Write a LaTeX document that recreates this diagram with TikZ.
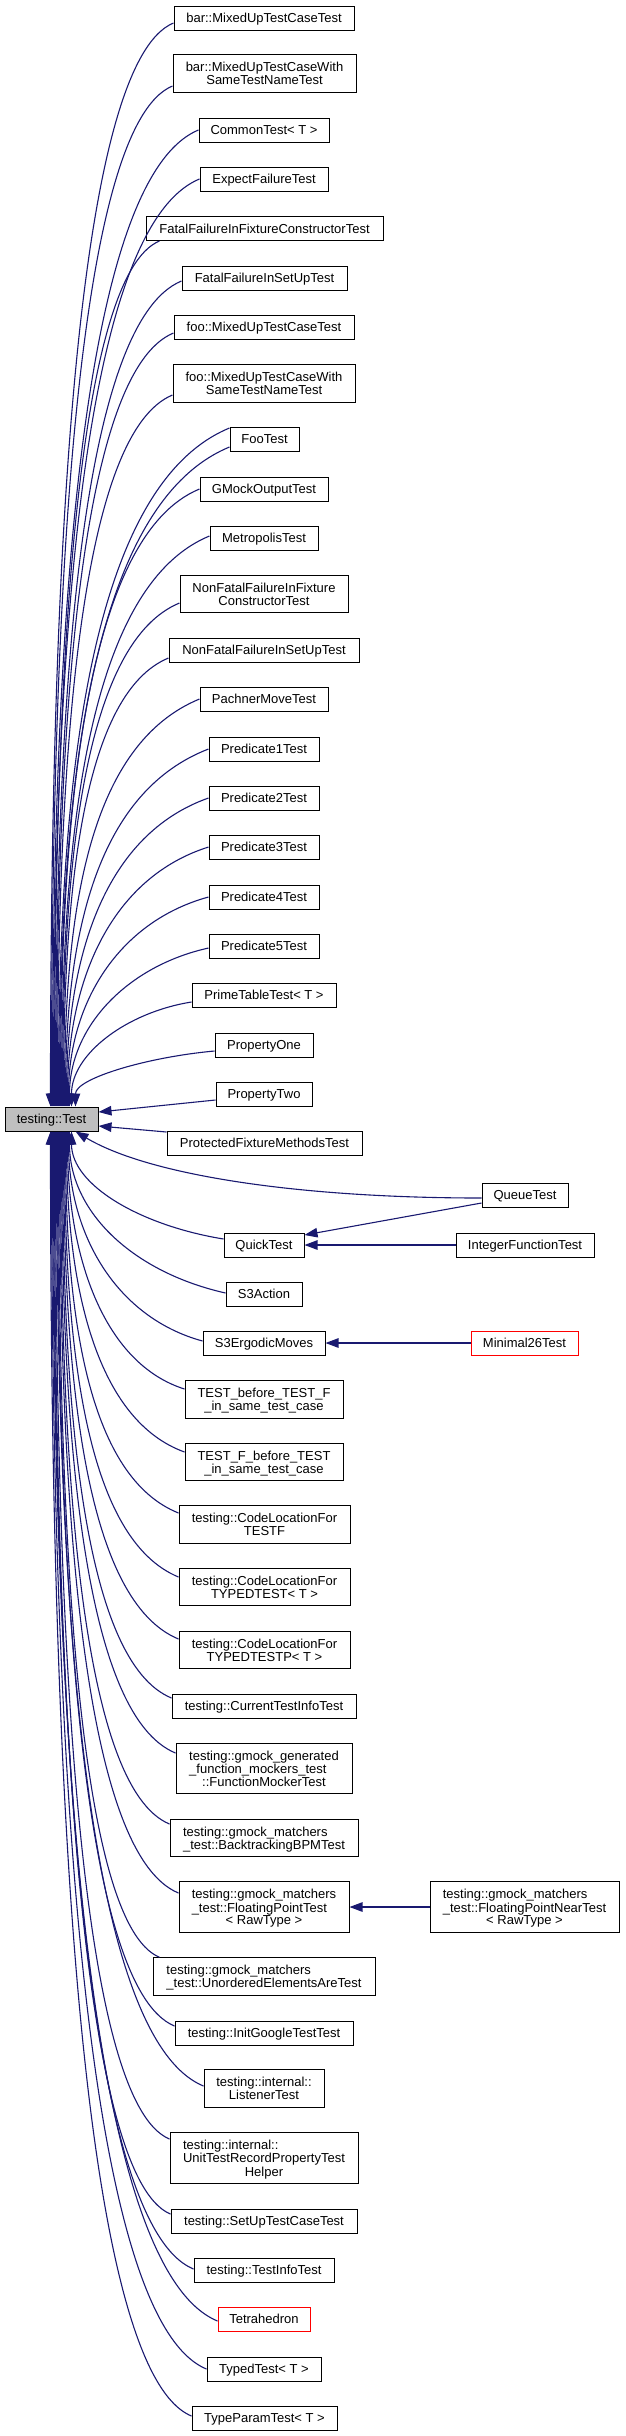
\documentclass[tikz,border=0pt]{standalone}
\usepackage{fontspec}
\setmainfont{Liberation Sans}
\usetikzlibrary{calc,arrows.meta}
\definecolor{edgeblue}{RGB}{25,25,112}
\definecolor{rootgray}{RGB}{191,191,191}
\newcommand\dlbl[1]{\raisebox{-2pt}[\height][\depth]{\begin{tabular}{@{}l@{}}#1\end{tabular}}}
\newcommand\dlc[1]{\multicolumn{1}{@{}c@{}}{#1}}
\newcommand\inh[2]{%
  \draw[edge] let \p1=(#2), \p2=(#1), \n1={\x2-\x1}, \n2={\y2-\y1},
    \n3={max(-1,min(1,\n2/400))} in
    (\p2) .. controls ({\x2-(0.45+0.35*abs(\n3))*\n1}, {\y2-0.33*\n1*\n3})
    and (\x1,{\y1+0.5*\n2}) .. (\p1);}
\tikzset{
  box/.style={draw=black, line width=1pt, fill=white, inner sep=0pt,
    minimum height=24pt, font=\fontsize{13}{12.8}\selectfont},
  htwo/.style={minimum height=37.5pt},
  hthree/.style={minimum height=50.5pt},
  redbox/.style={draw=red},
  rootbox/.style={fill=rootgray},
  edge/.style={draw=edgeblue, line width=1.1pt, -{Triangle[length=13pt,width=9.5pt]}},
}
\begin{document}
\begin{tikzpicture}[x=1pt,y=-1pt]
\useasboundingbox (0,0) rectangle (625,2436);
% root
\node[box, rootbox, minimum width=93pt] (T) at (51.5,1119) {\dlbl{testing::Test}};
% children above
\node[box, minimum width=180pt] (bar1) at (264,18) {\dlbl{bar::MixedUpTestCaseTest}};
\node[box, htwo, minimum width=183pt] (bar2) at (264.5,73.5) {\dlbl{bar::MixedUpTestCaseWith\\ \dlc{SameTestNameTest}}};
\node[box, minimum width=130pt] (common) at (264,130) {\dlbl{CommonTest< T >}};
\node[box, minimum width=128pt] (expect) at (264,179) {\dlbl{ExpectFailureTest}};
\node[box, minimum width=237pt] (fatalctor) at (264.5,228.5) {\dlbl{FatalFailureInFixtureConstructorTest}};
\node[box, minimum width=165pt] (fatalsetup) at (264.5,278) {\dlbl{FatalFailureInSetUpTest}};
\node[box, minimum width=180pt] (foo1) at (264,327) {\dlbl{foo::MixedUpTestCaseTest}};
\node[box, htwo, minimum width=182pt] (foo2) at (264,383.5) {\dlbl{foo::MixedUpTestCaseWith\\ \dlc{SameTestNameTest}}};
\node[box, minimum width=69pt] (footest) at (264.5,439) {\dlbl{FooTest}};
\node[box, minimum width=128pt] (gmock) at (264,489) {\dlbl{GMockOutputTest}};
\node[box, minimum width=108pt] (metro) at (264,538) {\dlbl{MetropolisTest}};
\node[box, htwo, minimum width=168pt] (nfctor) at (264,594) {\dlbl{NonFatalFailureInFixture\\ \dlc{ConstructorTest}}};
\node[box, minimum width=190pt] (nfsetup) at (264,650) {\dlbl{NonFatalFailureInSetUpTest}};
\node[box, minimum width=128pt] (pachner) at (264,699) {\dlbl{PachnerMoveTest}};
\node[box, minimum width=110pt] (pred1) at (264,749) {\dlbl{Predicate1Test}};
\node[box, minimum width=110pt] (pred2) at (264,798) {\dlbl{Predicate2Test}};
\node[box, minimum width=110pt] (pred3) at (264,847) {\dlbl{Predicate3Test}};
\node[box, minimum width=110pt] (pred4) at (264,897) {\dlbl{Predicate4Test}};
\node[box, minimum width=110pt] (pred5) at (264,946) {\dlbl{Predicate5Test}};
\node[box, minimum width=144pt] (prime) at (264,995) {\dlbl{PrimeTableTest< T >}};
\node[box, minimum width=98pt] (propone) at (264,1045) {\dlbl{PropertyOne}};
\node[box, minimum width=96pt] (proptwo) at (264,1094) {\dlbl{PropertyTwo}};
\node[box, minimum width=195pt] (protected) at (264.5,1143) {\dlbl{ProtectedFixtureMethodsTest}};
% children below
\node[box, minimum width=86pt] (queue) at (525,1195) {\dlbl{QueueTest}};
\node[box, minimum width=80pt] (quick) at (264,1245) {\dlbl{QuickTest}};
\node[box, minimum width=138pt] (intfunc) at (525,1245) {\dlbl{IntegerFunctionTest}};
\node[box, minimum width=76pt] (s3action) at (264,1294) {\dlbl{S3Action}};
\node[box, minimum width=122pt] (s3ergodic) at (264,1343) {\dlbl{S3ErgodicMoves}};
\node[box, redbox, minimum width=107pt] (minimal) at (524.5,1343) {\dlbl{Minimal26Test}};
\node[box, htwo, minimum width=158pt] (testbefore) at (264,1399.5) {\dlbl{TEST\_before\_TEST\_F\\ \dlc{\_in\_same\_test\_case}}};
\node[box, htwo, minimum width=158pt] (testfbefore) at (264,1462) {\dlbl{TEST\_F\_before\_TEST\\ \dlc{\_in\_same\_test\_case}}};
\node[box, htwo, minimum width=171pt] (codeloca) at (264.5,1524.5) {\dlbl{testing::CodeLocationFor\\ \dlc{TESTF}}};
\node[box, htwo, minimum width=171pt] (codelocb) at (264.5,1587) {\dlbl{testing::CodeLocationFor\\ \dlc{TYPEDTEST< T >}}};
\node[box, htwo, minimum width=171pt] (codelocc) at (264.5,1650) {\dlbl{testing::CodeLocationFor\\ \dlc{TYPEDTESTP< T >}}};
\node[box, minimum width=184pt] (curinfo) at (264,1706) {\dlbl{testing::CurrentTestInfoTest}};
\node[box, hthree, minimum width=176pt] (funcmock) at (264,1768.5) {\dlbl{testing::gmock\_generated\\ \_function\_mockers\_test\\ \dlc{::FunctionMockerTest}}};
\node[box, htwo, minimum width=188pt] (backtrack) at (264,1838) {\dlbl{testing::gmock\_matchers\\ \dlc{\_test::BacktrackingBPMTest}}};
\node[box, hthree, minimum width=170pt] (floatpt) at (264,1907) {\dlbl{testing::gmock\_matchers\\ \_test::FloatingPointTest\\ \dlc{< RawType >}}};
\node[box, hthree, minimum width=189pt] (floatnear) at (524.5,1907) {\dlbl{testing::gmock\_matchers\\ \_test::FloatingPointNearTest\\ \dlc{< RawType >}}};
\node[box, htwo, minimum width=222pt] (unordered) at (264,1976.5) {\dlbl{testing::gmock\_matchers\\ \dlc{\_test::UnorderedElementsAreTest}}};
\node[box, minimum width=178pt] (initgoogle) at (264,2033) {\dlbl{testing::InitGoogleTestTest}};
\node[box, htwo, minimum width=120pt] (listener) at (264,2088.5) {\dlbl{testing::internal::\\ \dlc{ListenerTest}}};
\node[box, hthree, minimum width=188pt] (unitrec) at (264,2158) {\dlbl{testing::internal::\\ UnitTestRecordPropertyTest\\ \dlc{Helper}}};
\node[box, minimum width=186pt] (setupcase) at (264,2221) {\dlbl{testing::SetUpTestCaseTest}};
\node[box, minimum width=140pt] (testinfo) at (264,2270) {\dlbl{testing::TestInfoTest}};
\node[box, redbox, minimum width=92pt] (tetra) at (264,2319) {\dlbl{Tetrahedron}};
\node[box, minimum width=114pt] (typed) at (264,2369) {\dlbl{TypedTest< T >}};
\node[box, minimum width=145pt] (typeparam) at (264.5,2418) {\dlbl{TypeParamTest< T >}};
% edges to testing::Test from above
\inh{[yshift=-5pt]bar1.west}{[xshift=46pt]T.north west}
\inh{[yshift=-12.5pt]bar2.west}{[xshift=47pt]T.north west}
\inh{common.west}{[xshift=48pt]T.north west}
\inh{expect.west}{[xshift=49pt]T.north west}
\inh{[xshift=14pt]fatalctor.south west}{[xshift=50pt]T.north west}
\inh{[yshift=-3pt]fatalsetup.west}{[xshift=51pt]T.north west}
\inh{[yshift=-6pt]foo1.west}{[xshift=52pt]T.north west}
\inh{[yshift=-11.5pt]foo2.west}{[xshift=53pt]T.north west}
\inh{[yshift=-1.5pt]footest.north west}{[xshift=54pt]T.north west}
\inh{[yshift=-8pt]footest.west}{[xshift=55pt]T.north west}
\inh{gmock.west}{[xshift=56pt]T.north west}
\inh{[yshift=2pt]metro.west}{[xshift=57pt]T.north west}
\inh{[yshift=-9pt]nfctor.west}{[xshift=58pt]T.north west}
\inh{[yshift=-8pt]nfsetup.west}{[xshift=59pt]T.north west}
\inh{pachner.west}{[xshift=60pt]T.north west}
\inh{pred1.west}{[xshift=61pt]T.north west}
\inh{pred2.west}{[xshift=62pt]T.north west}
\inh{pred3.west}{[xshift=63pt]T.north west}
\inh{pred4.west}{[xshift=64pt]T.north west}
\inh{[yshift=-2pt]pred5.west}{[xshift=65pt]T.north west}
\inh{[yshift=-7pt]prime.west}{[xshift=67pt]T.north west}
\inh{[yshift=-6pt]propone.west}{[xshift=71pt]T.north west}
\draw[edge] ([yshift=-6pt]proptwo.west) -- ([yshift=7pt]T.east);
\draw[edge] ([yshift=11pt]protected.west) -- ([yshift=-7pt]T.east);
% edges to testing::Test from below
\draw[edge] ([yshift=-3pt]queue.west) .. controls +(-182,0) and +(74,44) .. ([xshift=71pt]T.south west);
\inh{[yshift=6pt]quick.west}{[xshift=67pt]T.south west}
\inh{[yshift=1pt]s3action.west}{[xshift=65pt]T.south west}
\inh{[yshift=2pt]s3ergodic.west}{[xshift=64pt]T.south west}
\inh{[yshift=10.5pt]testbefore.west}{[xshift=63pt]T.south west}
\inh{[yshift=10pt]testfbefore.west}{[xshift=62pt]T.south west}
\inh{[yshift=11.5pt]codeloca.west}{[xshift=61pt]T.south west}
\inh{[yshift=10pt]codelocb.west}{[xshift=60pt]T.south west}
\inh{[yshift=11pt]codelocc.west}{[xshift=59pt]T.south west}
\inh{[yshift=8pt]curinfo.west}{[xshift=58pt]T.south west}
\inh{[yshift=15.5pt]funcmock.west}{[xshift=57pt]T.south west}
\inh{[yshift=14pt]backtrack.west}{[xshift=56pt]T.south west}
\inh{[yshift=14pt]floatpt.west}{[xshift=55pt]T.south west}
\inh{[xshift=7pt]unordered.north west}{[xshift=54pt]T.south west}
\inh{[yshift=7pt]initgoogle.west}{[xshift=53pt]T.south west}
\inh{[yshift=2.5pt]listener.west}{[xshift=52pt]T.south west}
\inh{[yshift=19pt]unitrec.west}{[xshift=51pt]T.south west}
\inh{[yshift=7pt]setupcase.west}{[xshift=50pt]T.south west}
\inh{[yshift=1pt]testinfo.west}{[xshift=49pt]T.south west}
\inh{[yshift=-2pt]tetra.west}{[xshift=48pt]T.south west}
\inh{typed.west}{[xshift=47pt]T.south west}
\inh{[yshift=2pt]typeparam.west}{[xshift=46pt]T.south west}
% other inheritance edges
\draw[edge] ([yshift=-8pt]queue.west) -- ([yshift=10pt]quick.east);
\draw[edge] (intfunc.west) -- (quick.east);
\draw[edge] (minimal.west) -- (s3ergodic.east);
\draw[edge] (floatnear.west) -- (floatpt.east);
\end{tikzpicture}
\end{document}
